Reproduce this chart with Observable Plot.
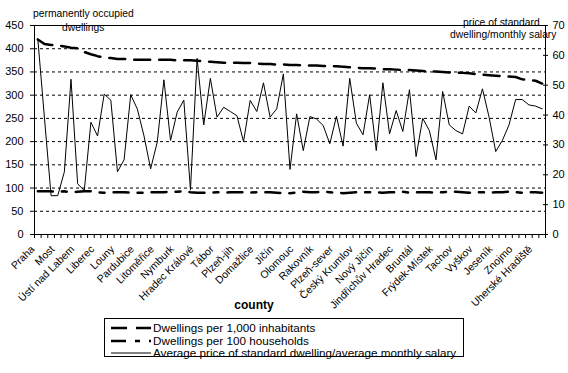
<!DOCTYPE html>
<html><head><meta charset="utf-8">
<script src="https://cdn.jsdelivr.net/npm/d3@7"></script>
<script src="https://cdn.jsdelivr.net/npm/@observablehq/plot@0.6"></script>
<style>
body{margin:0;background:#fff;font-family:Arial,"Liberation Sans",sans-serif;color:#000;}
#wrap{position:relative;width:568px;height:373px;overflow:hidden;background:#fff;}
#chart svg{display:block;}
.note{position:absolute;font-size:10.3px;line-height:12px;white-space:nowrap;}
#county{position:absolute;left:254px;top:298px;transform:translateX(-50%);font-size:12px;font-weight:bold;line-height:14px;}
#legend{position:absolute;left:104px;top:318px;width:360px;height:39px;border:1px solid #000;box-sizing:border-box;font-size:11.7px;}
.row{position:absolute;left:0;height:12px;line-height:12px;white-space:nowrap;}
.row svg{position:absolute;left:6px;top:2px;}
.row span{position:absolute;left:48px;top:0;}
</style>
</head><body>
<div id="wrap">
  <div id="chart"></div>
  <div class="note" style="left:33px;top:8px;">permanently occupied</div>
  <div class="note" style="left:62px;top:22px;">dwellings</div>
  <div class="note" style="left:463px;top:17px;">price of standard</div>
  <div class="note" style="left:450px;top:29px;">dwelling/monthly salary</div>
  <div id="county">county</div>
  <div id="legend"></div>
</div>
<script>
const countyLabels = ["Praha","Most","Ústí nad Labem","Liberec","Louny","Pardubice","Litoměřice","Nymburk","Hradec Králové","Tábor","Plzeň-jih","Domažlice","Jičín","Olomouc","Rakovník","Plzeň-sever","Český Krumlov","Nový Jičín","Jindřichův Hradec","Bruntál","Frýdek-Místek","Tachov","Vyškov","Jeseník","Znojmo","Uherské Hradiště"];
const labelStep = 3;

const leftTicks = [0,50,100,150,200,250,300,350,400,450];
const rightTicks = [0,10,20,30,40,50,60,70];

const seriesNames = ["Dwellings per 1,000 inhabitants","Dwellings per 100 households","Average price of standard dwelling/average monthly salary"];

const per1000 = [420,410,408,407,405,402,401,393,388,384,381,380,378,378,377,376,376,376,376,376,376,375,375,375,374,373,372,371,370,370,370,369,369,368,367,367,366,366,365,365,364,364,364,363,363,362,361,360,359,358,358,357,356,356,355,354,354,353,352,351,351,350,349,348,348,347,345,344,343,342,341,340,339,334,333,331,325];

const per100 = [93,93,93,92,93,91,92,93,93,91,90,91,91,91,90,90,90,91,91,91,92,92,93,91,90,90,90,91,90,91,91,91,90,91,91,91,90,89,89,90,92,91,91,92,91,90,89,90,91,91,91,91,90,91,91,92,90,91,91,91,90,91,92,92,91,90,91,91,90,91,91,92,91,90,91,91,90];

const price = [65.5,39,13,13,21,52,17,14.7,37.6,33,47,45,21,25,46.8,42,33,22,31,51.8,31.5,41,45,15,59,36.7,52.3,39.3,42.6,41.2,39.8,31.1,44.9,41.2,50.8,39.3,42.1,53.8,21.8,40.4,28.1,39.5,38.7,36.5,30.4,39.6,29.6,52.3,37.3,33.4,46.8,28.1,50.8,33.7,41.5,34.5,48.5,26.1,38.9,34.8,25.0,47.9,36.7,34.8,33.7,43.0,40.7,48.8,39.3,27.8,31.5,36.7,45.2,45.2,43.4,43.0,42.1];

const leftMax = leftTicks[leftTicks.length-1];
const rightMax = rightTicks[rightTicks.length-1];
const toLeft = v => v * leftMax / rightMax;

const rows = per1000.map((v,i)=>({i, per1000:v, per100:per100[i], price:toLeft(price[i])}));
const n = rows.length;
const boundaries = d3.range(n+1).map(k=>k-0.5);
const labelIdx = countyLabels.map((_,k)=>k*labelStep);

const styles = [
  {stroke:"#000", strokeWidth:2.5, strokeDasharray:"16,9"},
  {stroke:"#000", strokeWidth:2.5, strokeDasharray:"15,9,5,9"},
  {stroke:"#000", strokeWidth:1, strokeDasharray:null}
];

const chart = Plot.plot({
  width:568, height:318,
  marginTop:25, marginLeft:34, marginRight:23, marginBottom:84,
  style:{fontFamily:"Arial, 'Liberation Sans', sans-serif", background:"#fff", color:"#000", overflow:"visible"},
  x:{type:"linear", domain:[-0.5, n-0.5]},
  y:{domain:[0, leftMax]},
  marks:[
    Plot.ruleY(leftTicks.slice(1,-1), {stroke:"#000", strokeDasharray:"3,3", strokeWidth:1}),
    Plot.line(rows, {x:"i", y:"price", stroke:"#000", strokeWidth:1}),
    Plot.line(rows, {x:"i", y:"per1000", ...styles[0]}),
    Plot.line(rows, {x:"i", y:"per100", ...styles[1]}),
    Plot.frame({stroke:"#000"}),
    Plot.axisY(leftTicks, {anchor:"left", tickSize:4, tickPadding:7, fontSize:11, label:null}),
    Plot.axisY(rightTicks.map(toLeft), {anchor:"right", tickSize:5, dx:-3, tickPadding:5, fontSize:11, label:null, tickFormat: d => String(Math.round(d*rightMax/leftMax))}),
    Plot.axisX(boundaries, {tickSize:4, tickFormat:()=>"", label:null}),
    Plot.axisX(labelIdx, {tickSize:0, tickPadding:13, tickRotate:-45, dx:-5, fontSize:10.5, label:null, tickFormat: i => countyLabels[i/labelStep]})
  ]
});
document.getElementById("chart").appendChild(chart);

const legend = document.getElementById("legend");
seriesNames.forEach((name, k) => {
  const row = document.createElement("div");
  row.className = "row";
  row.style.top = (3 + k*12.5) + "px";
  const s = styles[k];
  row.innerHTML = `<svg width="40" height="8"><line x1="0" x2="40" y1="4" y2="4" stroke="${s.stroke}" stroke-width="${s.strokeWidth}" ${s.strokeDasharray ? `stroke-dasharray="${s.strokeDasharray}"` : ""}/></svg><span>${name}</span>`;
  legend.appendChild(row);
});
</script>
</body></html>
